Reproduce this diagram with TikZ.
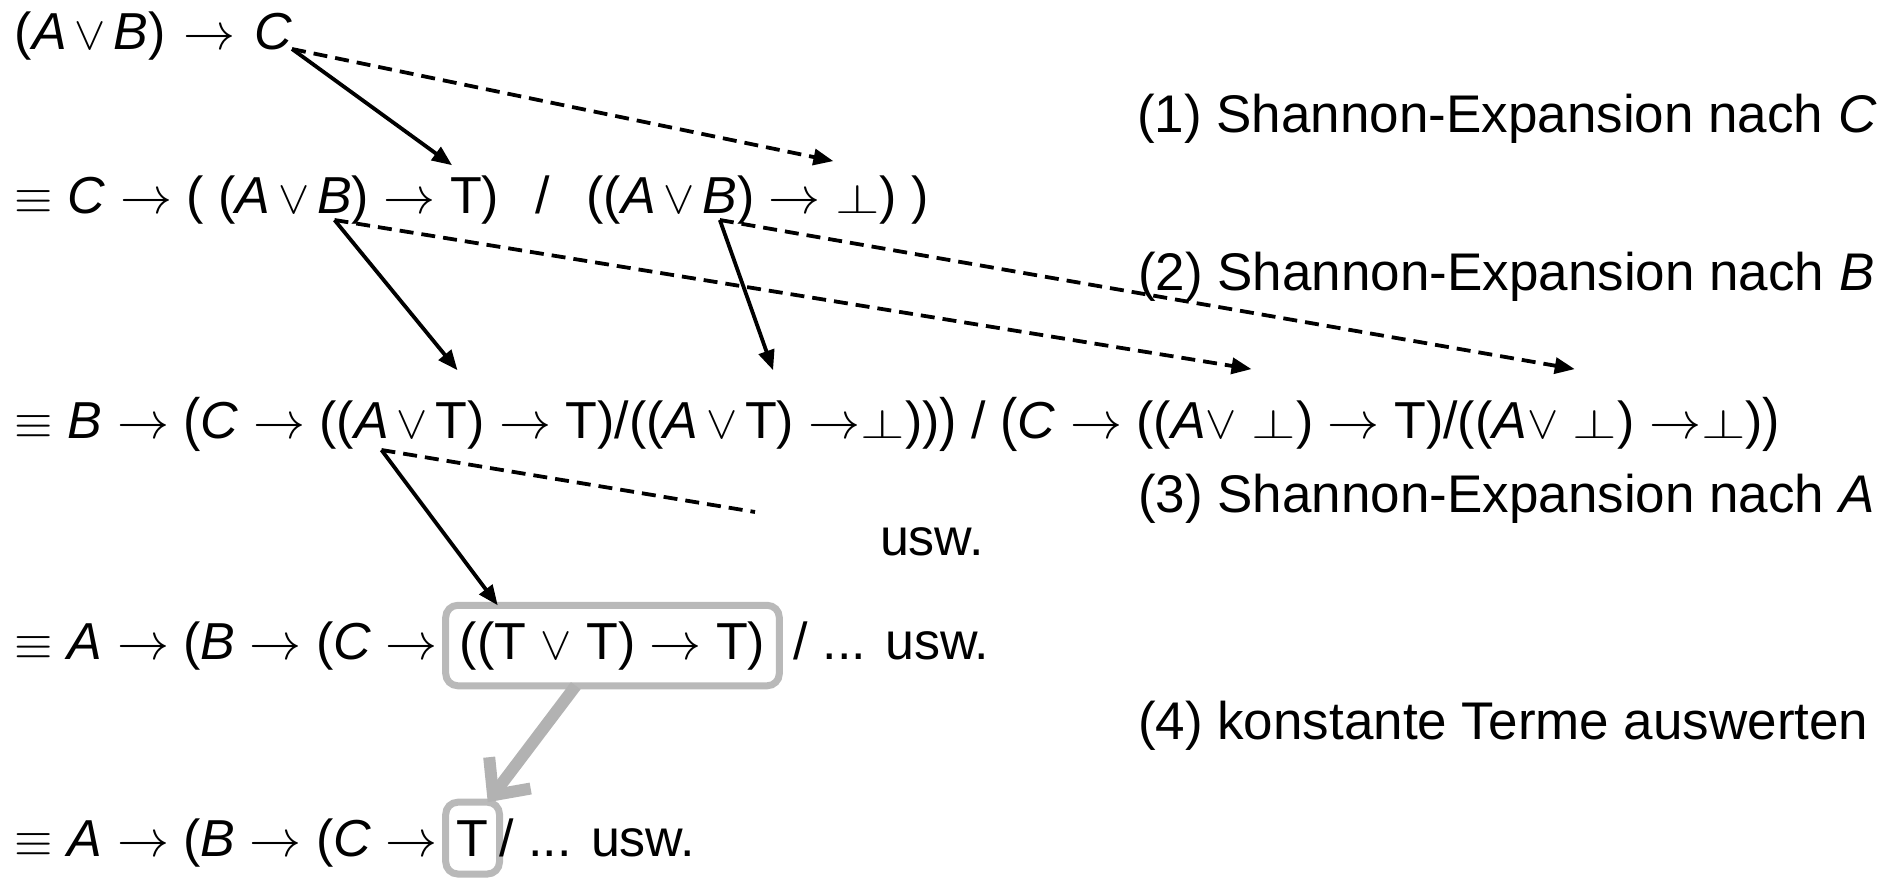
\RequirePackage{fix-cm}
\documentclass[tikz,border=0pt]{standalone}
\usepackage{fontspec}
\setmainfont{Liberation Sans}
\usepackage{graphicx}
\usetikzlibrary{arrows.meta}

\newcommand\myor{\scalebox{0.9}{$\vee$}}
\newcommand\myorsp{\kern.15em\myor\kern.15em}
\newcommand\myimp{$\rightarrow$}
\newcommand\myeqv{\scalebox{0.95}{$\equiv$}}
\newcommand\myfalse{\scalebox{1.1}[0.8]{$\bot$}}
\newcommand\vA{\textit{A}}
\newcommand\vB{\textit{B}}
\newcommand\vC{\textit{C}}
\newcommand\mygap{\kern.278em}
\newcommand\myBL{\raisebox{-0.03em}{\scalebox{1}[1.12]{(}}}
\newcommand\myBR{\raisebox{-0.03em}{\scalebox{1}[1.12]{)}}}

\begin{document}
\begin{tikzpicture}[x=0.5pt,y=-0.5pt,
  seg/.style={inner sep=0pt,outer sep=0pt,anchor=base west,font=\fontsize{26}{30}\selectfont},
  lbl/.style={inner sep=0pt,outer sep=0pt,anchor=base west,font=\fontsize{26.5}{30}\selectfont},
  hbox/.style={seg,draw=gray!55,line width=3.5pt,rounded corners=6pt},
  conn/.style={line width=1.9pt,-{Triangle[length=10pt,width=8pt]}},
  dconn/.style={conn,dash pattern=on 7pt off 4pt},
  dline/.style={line width=1.9pt,dash pattern=on 7pt off 4pt},
  fat/.style={line width=6pt,draw=gray!60,-{Straight Barb[length=14pt,width=26pt]}}]
\useasboundingbox (0,0) rectangle (1903,878);

% line 1
\node[seg] (l1a) at (15,49) {(\vA\myorsp\vB)\kern.35em\myimp\kern.35em};
\node[seg] (l1c) at (l1a.base east) {\vC};

% line 2
\node[seg] (l2a) at (15,213) {\myeqv{} \vC{} \myimp{} ( (\vA\myorsp};
\node[seg] (l2b) at (l2a.base east) {\vB};
\node[seg] (l2c) at (l2b.base east) {) \myimp\mygap};
\node[seg] (l2t) at (l2c.base east) {T};
\node[seg] (l2d) at (l2t.base east) {)\kern.7em/\kern.7em((\vA\myorsp};
\node[seg] (l2b2) at (l2d.base east) {\vB};
\node[seg] (l2e) at (l2b2.base east) {) \myimp\mygap};
\node[seg] (l2f) at (l2e.base east) {\myfalse};
\node[seg] (l2g) at (l2f.base east) {) )};

% line 3
\node[seg] (l3a) at (15,438) {\myeqv{} \vB{} \myimp{} \myBL\vC{} \myimp{} ((};
\node[seg] (l3A) at (l3a.base east) {\vA};
\node[seg] (l3b) at (l3A.base east) {\myorsp};
\node[seg] (l3T1) at (l3b.base east) {T};
\node[seg] (l3c) at (l3T1.base east) {) \myimp{} T)/((\vA\myorsp};
\node[seg] (l3T2) at (l3c.base east) {T};
\node[seg] (l3d) at (l3T2.base east) {) \myimp\myfalse))\myBR{} / \myBL\vC{} \myimp{} ((\vA\myor\mygap};
\node[seg] (l3F1) at (l3d.base east) {\myfalse};
\node[seg] (l3e) at (l3F1.base east) {) \myimp{} T)/((\vA\myor\mygap};
\node[seg] (l3F2) at (l3e.base east) {\myfalse};
\node[seg] (l3f) at (l3F2.base east) {) \myimp\myfalse)\myBR};

\node[seg] (usw) at (880,555) {usw.};

% line 4
\node[seg] (l4a) at (15,659) {\myeqv{} \vA{} \myimp{} (\vB{} \myimp{} (\vC{} \myimp\kern.15em};
\node[hbox,inner xsep=7pt,inner ysep=8pt] (l4box) at (l4a.base east) {((T \myor{} T) \myimp{} T)};
\node[seg] (l4b) at (l4box.base east) {\mygap/ ... usw.};

% line 5
\node[seg] (l5a) at (15,856) {\myeqv{} \vA{} \myimp{} (\vB{} \myimp{} (\vC{} \myimp\kern.15em};
\node[hbox,inner xsep=5.5pt,inner ysep=9pt] (l5box) at (l5a.base east) {T};
\node[seg] (l5b) at (l5box.base east) {/ ... usw.};

% right labels
\node[lbl] (s1) at (1137,132) {(1) Shannon-Expansion nach \vC};
\node[lbl] (s2) at (1138,290) {(2) Shannon-Expansion nach \vB};
\node[lbl] (s3) at (1138,512) {(3) Shannon-Expansion nach \vA};
\node[lbl] (s4) at (1138,739) {(4) konstante Terme auswerten};

% connectors
\draw[conn] (l1c.base east) -- ([shift={(1pt,6pt)}]l2t.north west);
\draw[dconn] (l1c.base east) -- ([shift={(-1pt,11.5pt)}]l2f.north west);
\draw[conn] ([yshift=-3.5pt]l2b.south) -- ([shift={(3pt,16pt)}]l3T1.north);
\draw[dconn] ([yshift=-3.5pt]l2b.south) -- ([shift={(0pt,20pt)}]l3F1.north west);
\draw[conn] ([yshift=-3.5pt]l2b2.south) -- ([shift={(6pt,16pt)}]l3T2.north);
\draw[dconn] ([yshift=-3.5pt]l2b2.south) -- ([shift={(1pt,20pt)}]l3F2.north west);
\coordinate (dend) at (755,512);
\draw[conn] ([shift={(5pt,-6pt)}]l3A.south) -- ([xshift=26pt]l4box.north west);
\draw[dline] ([shift={(5pt,-6pt)}]l3A.south) -- (dend);
\draw[fat] ([xshift=65pt]l4box.south west) -- ([xshift=21pt]l5box.north west);
\end{tikzpicture}
\end{document}
